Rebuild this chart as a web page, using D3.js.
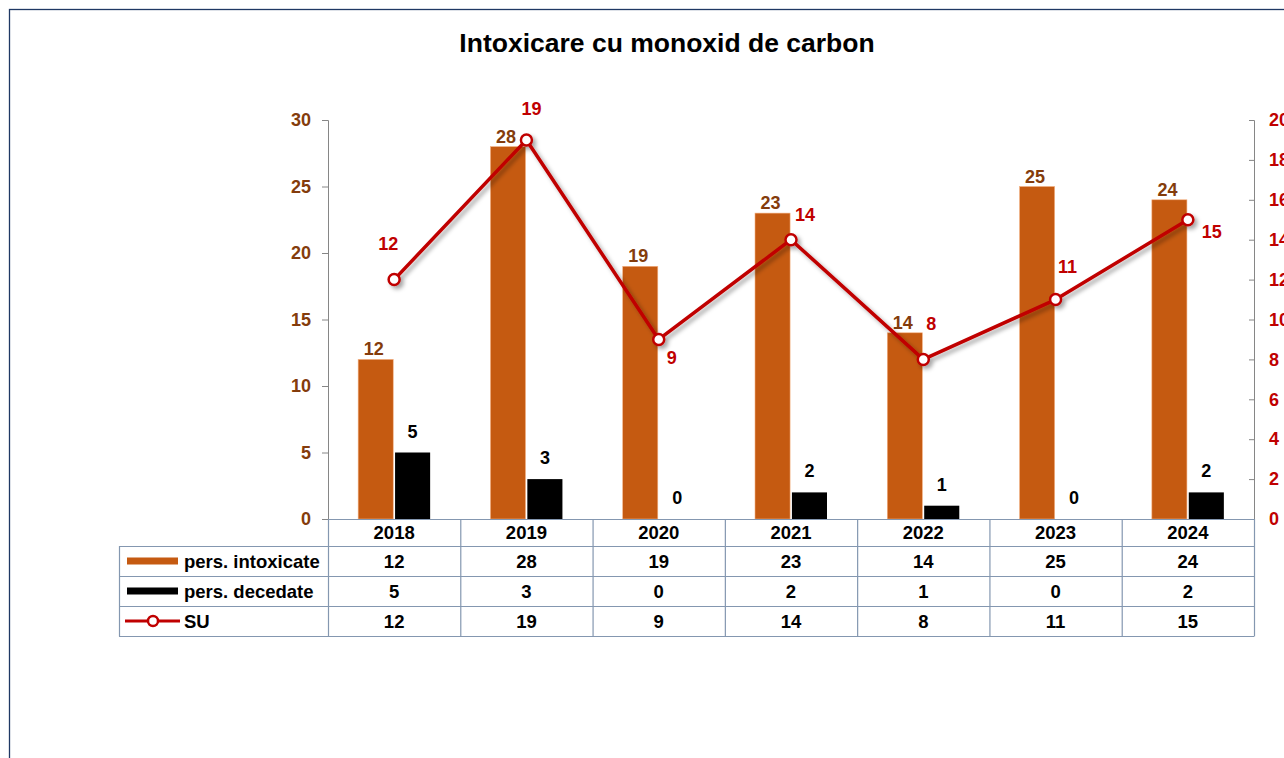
<!DOCTYPE html>
<html>
<head>
<meta charset="utf-8">
<script src="https://cdn.jsdelivr.net/npm/d3@7"></script>
<style>
  body { margin: 0; background: #fff; }
  svg { display: block; font-family: "Liberation Sans", Arial, sans-serif; font-weight: bold; }
</style>
</head>
<body>
<svg width="1284" height="758"></svg>
<script>
const years = ['2018', '2019', '2020', '2021', '2022', '2023', '2024'];
const intoxicate = [12, 28, 19, 23, 14, 25, 24];
const decedate = [5, 3, 0, 2, 1, 0, 2];
const su = [12, 19, 9, 14, 8, 11, 15];
const leftTicks = [0, 5, 10, 15, 20, 25, 30];
const rightTicks = [0, 2, 4, 6, 8, 10, 12, 14, 16, 18, 20];
const seriesNames = ['pers. intoxicate', 'pers. decedate', 'SU'];

// where each SU label sits relative to its point
const suLabelOffset = [[-6, -36], [5, -31], [13, 18], [14, -25], [8, -36], [12, -33], [24, 12]];

const orange = '#C55A11', brown = '#843C0C', red = '#C00000', gridBlue = '#8497B0';
const fs = 18;

const svg = d3.select('svg');

const defs = svg.append('defs');
defs.append('filter').attr('id', 'shadow')
    .attr('x', '-10%').attr('y', '-10%').attr('width', '120%').attr('height', '130%')
  .append('feDropShadow')
    .attr('dx', 3).attr('dy', 3).attr('stdDeviation', 2)
    .attr('flood-color', '#000').attr('flood-opacity', 0.35);

svg.append('rect')
    .attr('x', 9.5).attr('y', 9.5)
    .attr('width', 1400).attr('height', 900)
    .attr('fill', 'none').attr('stroke', '#1F3864').attr('stroke-width', 1.3);

svg.append('text')
    .attr('x', 667).attr('y', 52)
    .attr('text-anchor', 'middle')
    .attr('font-size', 26.5)
    .attr('fill', '#000')
    .text('Intoxicare cu monoxid de carbon');

const plotLeft = 328, plotRight = 1254, plotTop = 120, plotBottom = 519;

const x = d3.scaleBand().domain(years).range([plotLeft, plotRight]);
const y = d3.scaleLinear().domain([0, 30]).range([plotBottom, plotTop]);
const y2 = d3.scaleLinear().domain([0, 20]).range([plotBottom, plotTop]);
const xSub = d3.scaleBand().domain([0, 1]).range([-36, 36]).paddingInner(0.05);

// left axis
const yAxis = svg.append('g')
    .attr('transform', `translate(${plotLeft},0)`)
    .call(d3.axisLeft(y).tickValues(leftTicks).tickSize(6).tickPadding(11));
yAxis.select('.domain').attr('stroke', '#868686');
yAxis.selectAll('.tick line').attr('stroke', '#868686');
yAxis.selectAll('.tick text')
    .attr('fill', brown).attr('font-size', fs).attr('font-family', null);

// right axis
const y2Axis = svg.append('g')
    .attr('transform', `translate(${plotRight},0)`)
    .call(d3.axisRight(y2).tickValues(rightTicks).tickSize(-5).tickPadding(15));
y2Axis.select('.domain').attr('stroke', '#868686');
y2Axis.selectAll('.tick line').attr('stroke', '#868686');
y2Axis.selectAll('.tick text')
    .attr('fill', red).attr('font-size', fs).attr('font-family', null);

// bars
const groups = svg.append('g').selectAll('g')
    .data(years)
    .join('g')
    .attr('transform', d => `translate(${x(d) + x.bandwidth() / 2},0)`);

groups.append('rect')
    .attr('x', xSub(0))
    .attr('width', xSub.bandwidth())
    .attr('y', (d, i) => y(intoxicate[i]))
    .attr('height', (d, i) => plotBottom - y(intoxicate[i]))
    .attr('fill', orange)
    .attr('stroke', '#F4B183').attr('stroke-width', 0.6);

groups.append('rect')
    .attr('x', xSub(1))
    .attr('width', xSub.bandwidth())
    .attr('y', (d, i) => y(decedate[i]))
    .attr('height', (d, i) => plotBottom - y(decedate[i]))
    .attr('fill', '#000');

groups.append('text')
    .attr('x', xSub(0) + xSub.bandwidth() / 2 - 2)
    .attr('y', (d, i) => y(intoxicate[i]) - 4)
    .attr('text-anchor', 'middle')
    .attr('font-size', fs)
    .attr('fill', brown)
    .text((d, i) => intoxicate[i]);

groups.append('text')
    .attr('x', xSub(1) + xSub.bandwidth() / 2)
    .attr('y', (d, i) => y(decedate[i]) - 15)
    .attr('text-anchor', 'middle')
    .attr('font-size', fs)
    .attr('fill', '#000')
    .text((d, i) => decedate[i]);

// SU line
const line = d3.line()
    .x((d, i) => x(years[i]) + x.bandwidth() / 2)
    .y(d => y2(d));

const lineG = svg.append('g').attr('filter', 'url(#shadow)');
lineG.append('path')
    .datum(su)
    .attr('d', line)
    .attr('fill', 'none')
    .attr('stroke', red)
    .attr('stroke-width', 3.5)
    .attr('stroke-linejoin', 'round');

lineG.selectAll('circle')
    .data(su)
    .join('circle')
    .attr('cx', (d, i) => x(years[i]) + x.bandwidth() / 2)
    .attr('cy', d => y2(d))
    .attr('r', 5.5)
    .attr('fill', '#fff')
    .attr('stroke', red)
    .attr('stroke-width', 2.5);

svg.append('g').selectAll('text')
    .data(su)
    .join('text')
    .attr('x', (d, i) => x(years[i]) + x.bandwidth() / 2 + suLabelOffset[i][0])
    .attr('y', (d, i) => y2(d) + suLabelOffset[i][1])
    .attr('text-anchor', 'middle')
    .attr('dy', '0.35em')
    .attr('font-size', fs)
    .attr('fill', red)
    .text(d => d);

// data table
const tableLeft = 119;
const rowY = [plotBottom, 546, 576, 606, 636];
const table = svg.append('g');
const cellText = 18.5;

// header row (years)
table.selectAll('.hdr')
    .data(years)
    .join('text')
    .attr('class', 'hdr')
    .attr('x', d => x(d) + x.bandwidth() / 2)
    .attr('y', (rowY[0] + rowY[1]) / 2)
    .attr('dy', '0.36em')
    .attr('text-anchor', 'middle')
    .attr('font-size', cellText)
    .attr('fill', '#000')
    .text(d => d);

const rows = [intoxicate, decedate, su];
rows.forEach((vals, r) => {
  const cy = (rowY[r + 1] + rowY[r + 2]) / 2;
  table.selectAll(null)
      .data(vals)
      .join('text')
      .attr('x', (d, i) => x(years[i]) + x.bandwidth() / 2)
      .attr('y', cy)
      .attr('dy', '0.36em')
      .attr('text-anchor', 'middle')
      .attr('font-size', cellText)
      .attr('fill', '#000')
      .text(d => d);
  table.append('text')
      .attr('x', 184)
      .attr('y', cy)
      .attr('dy', '0.36em')
      .attr('font-size', cellText)
      .attr('fill', '#000')
      .text(seriesNames[r]);
});

// legend keys
const keyY = r => (rowY[r + 1] + rowY[r + 2]) / 2;
table.append('line')
    .attr('x1', 127).attr('x2', 178).attr('y1', keyY(0)).attr('y2', keyY(0))
    .attr('stroke', orange).attr('stroke-width', 7);
table.append('line')
    .attr('x1', 127).attr('x2', 178).attr('y1', keyY(1)).attr('y2', keyY(1))
    .attr('stroke', '#000').attr('stroke-width', 7);
table.append('line')
    .attr('x1', 125).attr('x2', 180).attr('y1', keyY(2)).attr('y2', keyY(2))
    .attr('stroke', red).attr('stroke-width', 3);
table.append('circle')
    .attr('cx', 153).attr('cy', keyY(2)).attr('r', 5)
    .attr('fill', '#fff').attr('stroke', red).attr('stroke-width', 2.5);

// grid lines
rowY.slice(1).forEach(yy => {
  table.append('line')
      .attr('x1', tableLeft).attr('x2', plotRight)
      .attr('y1', yy + 0.5).attr('y2', yy + 0.5)
      .attr('stroke', gridBlue).attr('stroke-width', 1.2);
});
table.append('line')
    .attr('x1', plotLeft).attr('x2', plotRight)
    .attr('y1', plotBottom + 0.5).attr('y2', plotBottom + 0.5)
    .attr('stroke', gridBlue).attr('stroke-width', 1.2);
const vx = years.map(d => x(d)).concat([plotRight]);
vx.forEach(xx => {
  table.append('line')
      .attr('x1', xx + 0.5).attr('x2', xx + 0.5)
      .attr('y1', plotBottom).attr('y2', rowY[4] + 0.5)
      .attr('stroke', gridBlue).attr('stroke-width', 1.2);
});
table.append('line')
    .attr('x1', tableLeft + 0.5).attr('x2', tableLeft + 0.5)
    .attr('y1', rowY[1]).attr('y2', rowY[4] + 0.5)
    .attr('stroke', gridBlue).attr('stroke-width', 1.2);
</script>
</body>
</html>
